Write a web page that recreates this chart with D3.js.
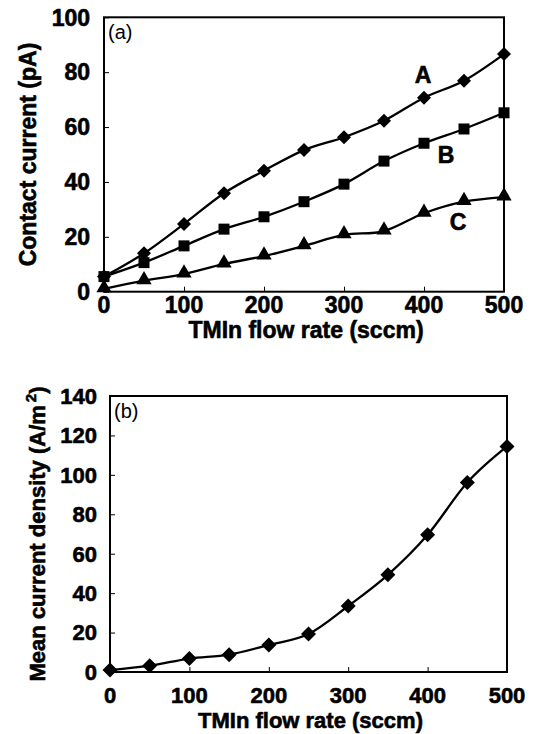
<!DOCTYPE html>
<html>
<head>
<meta charset="utf-8">
<script src="https://cdn.jsdelivr.net/npm/d3@7"></script>
<style>
	body { margin: 0; background: #fff; }
	svg { display: block; }
	text { font-family: "Liberation Sans", Arial, sans-serif; fill: #000; }
	text.heavy { font-weight: bold; stroke: #000; stroke-width: 0.6; }
</style>
</head>
<body>
<svg id="chart" width="535" height="734"></svg>
<script>
(function(d3) {
	'use strict';

	/** data */
	var flowRates = [0, 50, 100, 150, 200, 250, 300, 350, 400, 450, 500];
	var currentA = [5.5, 14, 24.7, 35.9, 44.1, 51.6, 56.3, 62.3, 70.7, 76.9, 86.6];
	var currentB = [5.5, 10.6, 16.7, 22.8, 27.3, 32.8, 39.2, 47.6, 54.1, 59.3, 65.2];
	var currentC = [1, 4, 6.4, 10.1, 13, 16.7, 20.7, 22.1, 28.6, 32.8, 34.5];
	var densityValues = [1, 3.2, 6.8, 8.8, 13.7, 19.3, 33.5, 49.3, 69.6, 96.1, 114.4];
	var xTicks = [0, 100, 200, 300, 400, 500];
	var yTicksA = [0, 20, 40, 60, 80, 100];
	var yTicksB = [0, 20, 40, 60, 80, 100, 120, 140];
	var seriesNames = ['A', 'B', 'C'];

	var svg = d3.select('#chart');

	var symbolFor = {
		'diamond': function(s) { return d3.symbol().type(d3.symbolSquare).size(s * s / 2)(); },
		'square': function(s) { return d3.symbol().type(d3.symbolSquare).size(s * s)(); },
		'triangle': function(s) { return d3.symbol().type(d3.symbolTriangle).size(s * s * 0.45)(); }
	};

	var drawPanel = function(cfg) {
		var g = svg.append('g');
		var x = d3.scaleLinear().domain([0, 500]).range([cfg.left, cfg.right]);
		var y = d3.scaleLinear().domain([0, cfg.yMax]).range([cfg.bottom, cfg.top]);

		// inward ticks
		g.append('g').attr('transform', 'translate(0,' + cfg.bottom + ')')
			.call(d3.axisTop(x).tickValues(xTicks).tickSize(5).tickFormat(''))
			.call(function(a) { a.select('.domain').remove(); });
		g.append('g').attr('transform', 'translate(' + cfg.left + ',0)')
			.call(d3.axisRight(y).tickValues(cfg.yTicks).tickSize(5).tickFormat(''))
			.call(function(a) { a.select('.domain').remove(); });

		// tick labels
		g.selectAll('.xlab').data(xTicks).enter().append('text')
			.attr('class', 'heavy')
			.attr('x', x).attr('y', cfg.xLabelY)
			.attr('text-anchor', 'middle')
			.style('font-size', cfg.font + 'px')
			.text(function(d) { return d; });
		g.selectAll('.ylab').data(cfg.yTicks).enter().append('text')
			.attr('class', 'heavy')
			.attr('x', cfg.yLabelX).attr('y', y).attr('dy', '0.36em')
			.attr('text-anchor', 'end')
			.style('font-size', cfg.font + 'px')
			.text(function(d) { return d; });

		// series
		cfg.series.forEach(function(s) {
			var pts = flowRates.map(function(f, i) { return [f, s.values[i]]; });
			var line = d3.line()
				.x(function(d) { return x(d[0]); })
				.y(function(d) { return y(d[1]); })
				.curve(d3.curveCatmullRom.alpha(0));
			g.append('path').attr('d', line(pts))
				.attr('fill', 'none').attr('stroke', '#000').attr('stroke-width', 2.3);
			g.selectAll(null).data(pts).enter().append('path')
				.attr('d', symbolFor[s.marker](s.size))
				.attr('transform', function(d) {
					var r = s.marker === 'diamond' ? ' rotate(45)' : '';
					var dy = s.marker === 'triangle' ? -1 : 0;
					return 'translate(' + x(d[0]) + ',' + (y(d[1]) + dy) + ')' + r;
				})
				.attr('fill', '#000');
		});

		// frame
		g.append('rect')
			.attr('x', cfg.left).attr('y', cfg.top)
			.attr('width', cfg.right - cfg.left).attr('height', cfg.bottom - cfg.top)
			.attr('fill', 'none').attr('stroke', '#000').attr('stroke-width', 2);

		// panel tag
		g.append('text').attr('x', cfg.left + 4).attr('y', cfg.top + 22)
			.style('font-size', '20px')
			.text(cfg.tag);

		// axis titles
		g.append('text')
			.attr('class', 'heavy')
			.attr('x', (cfg.left + cfg.right) / 2 + 2).attr('y', cfg.xTitleY)
			.attr('text-anchor', 'middle')
			.style('font-size', cfg.font + 'px')
			.text('TMIn flow rate (sccm)');
		var yt = g.append('text')
			.attr('class', 'heavy')
			.attr('transform', 'translate(' + cfg.yTitleX + ',' + ((cfg.top + cfg.bottom) / 2) + ') rotate(-90)')
			.attr('text-anchor', 'middle').attr('dy', '0.36em')
			.style('font-size', cfg.font + 'px');
		cfg.yTitle(yt);
		return { x: x, y: y, g: g };
	};

	var panelA = drawPanel({
		left: 104, right: 504, top: 17.3, bottom: 291.7,
		yMax: 100, yTicks: yTicksA, font: 23,
		xLabelY: 313, yLabelX: 90, xTitleY: 338, yTitleX: 28,
		tag: '(a)',
		yTitle: function(t) { t.text('Contact current (pA)'); },
		series: [
			{ values: currentA, marker: 'diamond', size: 14 },
			{ values: currentB, marker: 'square', size: 11 },
			{ values: currentC, marker: 'triangle', size: 15 }
		]
	});

	// curve labels
	var labelPos = [[423, 83], [446, 163], [458, 230]];
	panelA.g.selectAll('.slab').data(seriesNames).enter().append('text')
		.attr('class', 'heavy')
		.attr('x', function(d, i) { return labelPos[i][0]; })
		.attr('y', function(d, i) { return labelPos[i][1]; })
		.attr('text-anchor', 'middle')
		.style('font-size', '23px')
		.text(function(d) { return d; });

	drawPanel({
		left: 110, right: 507, top: 396, bottom: 672,
		yMax: 140, yTicks: yTicksB, font: 22,
		xLabelY: 703, yLabelX: 97, xTitleY: 728, yTitleX: 37,
		tag: '(b)',
		yTitle: function(t) {
			t.append('tspan').text('Mean current density (A/m');
			t.append('tspan').attr('dy', -9).attr('dx', 3).style('font-size', '15px').text('2');
			t.append('tspan').attr('dy', 9).text(')');
		},
		series: [
			{ values: densityValues, marker: 'diamond', size: 15 }
		]
	});
})(d3);
</script>
</body>
</html>
